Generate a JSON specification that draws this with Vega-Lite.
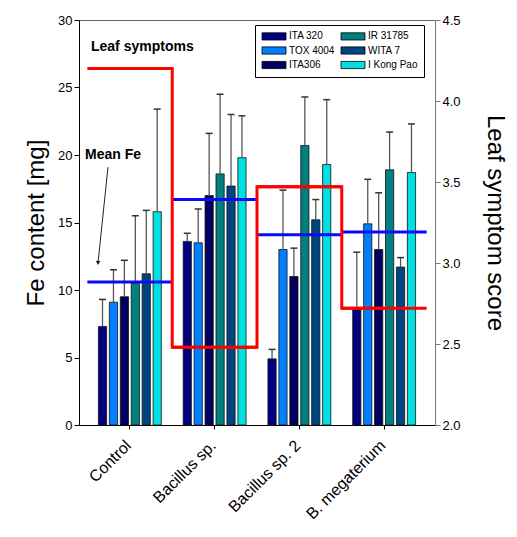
{
  "$schema": "https://vega.github.io/schema/vega-lite/v6.json",
  "width": 356,
  "height": 405,
  "autosize": {"type": "none"},
  "padding": {"left": 79, "top": 20, "right": 82, "bottom": 112},
  "background": "white",
  "config": {
    "font": "Liberation Sans",
    "view": {"stroke": "#666666", "strokeWidth": 1},
    "axis": {"grid": false, "labelColor": "black", "titleColor": "black", "titleFontWeight": "normal", "labelFont": "Liberation Sans", "titleFont": "Liberation Sans"}
  },
  "datasets": {
    "bars": [
      {"treatment": "Control", "genotype": "ITA 320", "fe": 7.3, "upper": 9.3},
      {"treatment": "Control", "genotype": "TOX 4004", "fe": 9.1, "upper": 11.5},
      {"treatment": "Control", "genotype": "ITA306", "fe": 9.5, "upper": 12.2},
      {"treatment": "Control", "genotype": "IR 31785", "fe": 10.5, "upper": 15.5},
      {"treatment": "Control", "genotype": "WITA 7", "fe": 11.2, "upper": 15.9},
      {"treatment": "Control", "genotype": "I Kong Pao", "fe": 15.8, "upper": 23.4},
      {"treatment": "Bacillus sp.", "genotype": "ITA 320", "fe": 13.6, "upper": 14.2},
      {"treatment": "Bacillus sp.", "genotype": "TOX 4004", "fe": 13.5, "upper": 16.0},
      {"treatment": "Bacillus sp.", "genotype": "ITA306", "fe": 17.0, "upper": 21.6},
      {"treatment": "Bacillus sp.", "genotype": "IR 31785", "fe": 18.6, "upper": 24.5},
      {"treatment": "Bacillus sp.", "genotype": "WITA 7", "fe": 17.7, "upper": 23.0},
      {"treatment": "Bacillus sp.", "genotype": "I Kong Pao", "fe": 19.8, "upper": 22.9},
      {"treatment": "Bacillus sp. 2", "genotype": "ITA 320", "fe": 4.9, "upper": 5.6},
      {"treatment": "Bacillus sp. 2", "genotype": "TOX 4004", "fe": 13.0, "upper": 17.4},
      {"treatment": "Bacillus sp. 2", "genotype": "ITA306", "fe": 11.0, "upper": 13.1},
      {"treatment": "Bacillus sp. 2", "genotype": "IR 31785", "fe": 20.7, "upper": 24.3},
      {"treatment": "Bacillus sp. 2", "genotype": "WITA 7", "fe": 15.2, "upper": 16.7},
      {"treatment": "Bacillus sp. 2", "genotype": "I Kong Pao", "fe": 19.3, "upper": 24.1},
      {"treatment": "B. megaterium", "genotype": "ITA 320", "fe": 8.6, "upper": 12.8},
      {"treatment": "B. megaterium", "genotype": "TOX 4004", "fe": 14.9, "upper": 18.2},
      {"treatment": "B. megaterium", "genotype": "ITA306", "fe": 13.0, "upper": 17.2},
      {"treatment": "B. megaterium", "genotype": "IR 31785", "fe": 18.9, "upper": 21.7},
      {"treatment": "B. megaterium", "genotype": "WITA 7", "fe": 11.7, "upper": 12.4},
      {"treatment": "B. megaterium", "genotype": "I Kong Pao", "fe": 18.7, "upper": 22.3}
    ],
    "means": [
      {"treatment": "Control", "meanFe": 10.6, "score": 4.2},
      {"treatment": "Bacillus sp.", "meanFe": 16.7, "score": 2.48},
      {"treatment": "Bacillus sp. 2", "meanFe": 14.1, "score": 3.47},
      {"treatment": "B. megaterium", "meanFe": 14.3, "score": 2.72}
    ],
    "notes": [
      {"label": "Leaf symptoms", "treatment": "Control", "fe": 27.7},
      {"label": "Mean Fe", "treatment": "Control", "fe": 19.7}
    ]
  },
  "layer": [
    {
      "encoding": {
        "x": {
          "field": "treatment", "type": "nominal",
          "sort": ["Control", "Bacillus sp.", "Bacillus sp. 2", "B. megaterium"],
          "scale": {"paddingInner": 0, "paddingOuter": 0.1},
          "axis": {"title": null, "labelAngle": -45, "labelFontSize": 16, "tickSize": 4, "tickColor": "black", "domainColor": "black", "labelPadding": 8, "labelOffset": -7}
        }
      },
      "layer": [
        {
          "data": {"name": "bars"},
          "mark": {"type": "bar", "stroke": "#111111", "strokeWidth": 0.8},
          "encoding": {
            "xOffset": {"field": "genotype", "type": "nominal", "sort": ["ITA 320", "TOX 4004", "ITA306", "IR 31785", "WITA 7", "I Kong Pao"], "scale": {"paddingInner": 0.25, "paddingOuter": 1.36}},
            "y": {
              "field": "fe", "type": "quantitative",
              "scale": {"domain": [0, 30]},
              "axis": {"orient": "left", "values": [0, 5, 10, 15, 20, 25, 30], "title": "Fe content [mg]", "titleFontSize": 24, "labelFontSize": 13, "tickSize": 5, "tickColor": "black", "domainColor": "black", "titlePadding": 9}
            },
            "color": {
              "field": "genotype", "type": "nominal",
              "scale": {"domain": ["ITA 320", "TOX 4004", "ITA306", "IR 31785", "WITA 7", "I Kong Pao"], "range": ["#000080", "#0080FF", "#000060", "#008080", "#004480", "#00E0E0"]},
              "legend": {"orient": "none", "legendX": 176, "legendY": 5, "columns": 2, "title": null, "strokeColor": "black", "fillColor": "white", "padding": 6, "symbolType": "M-1,-0.9H5V0.9H-1Z", "symbolSize": 64, "symbolStrokeColor": "black", "symbolStrokeWidth": 0.8, "symbolOpacity": 1, "labelFontSize": 10, "labelOffset": 18, "rowPadding": 2.5, "columnPadding": 4, "labelColor": "black"}
            }
          }
        },
        {
          "data": {"name": "bars"},
          "mark": {"type": "rule", "color": "#555555", "strokeWidth": 1.3},
          "encoding": {
            "xOffset": {"field": "genotype", "type": "nominal", "sort": ["ITA 320", "TOX 4004", "ITA306", "IR 31785", "WITA 7", "I Kong Pao"]},
            "y": {"field": "fe", "type": "quantitative", "scale": {"domain": [0, 30]}},
            "y2": {"field": "upper"}
          }
        },
        {
          "data": {"name": "bars"},
          "mark": {"type": "tick", "orient": "horizontal", "size": 7, "thickness": 1.5, "color": "#333333", "opacity": 1},
          "encoding": {
            "xOffset": {"field": "genotype", "type": "nominal", "sort": ["ITA 320", "TOX 4004", "ITA306", "IR 31785", "WITA 7", "I Kong Pao"]},
            "y": {"field": "upper", "type": "quantitative", "scale": {"domain": [0, 30]}}
          }
        },
        {
          "data": {"name": "means"},
          "mark": {"type": "tick", "orient": "horizontal", "size": 85, "thickness": 3, "color": "#0A0AF5", "opacity": 1},
          "encoding": {
            "y": {"field": "meanFe", "type": "quantitative", "scale": {"domain": [0, 30]}}
          }
        },
        {
          "data": {"name": "notes"},
          "transform": [{"filter": "datum.label === 'Leaf symptoms'"}],
          "mark": {"type": "text", "fontSize": 14, "fontWeight": "bold", "align": "left", "baseline": "alphabetic", "color": "black", "dx": 3.5},
          "encoding": {
            "x": {"field": "treatment", "type": "nominal", "bandPosition": 0},
            "y": {"field": "fe", "type": "quantitative", "scale": {"domain": [0, 30]}},
            "text": {"field": "label"}
          }
        },
        {
          "data": {"name": "notes"},
          "transform": [{"filter": "datum.label === 'Mean Fe'"}],
          "mark": {"type": "text", "fontSize": 14, "fontWeight": "bold", "align": "left", "baseline": "alphabetic", "color": "black", "dx": -2.5},
          "encoding": {
            "x": {"field": "treatment", "type": "nominal", "bandPosition": 0},
            "y": {"field": "fe", "type": "quantitative", "scale": {"domain": [0, 30]}},
            "text": {"field": "label"}
          }
        },
        {
          "data": {"values": [{"treatment": "Control", "from": 19.1, "to": 12.1}]},
          "mark": {"type": "rule", "color": "#222222", "strokeWidth": 1},
          "encoding": {
            "x": {"field": "treatment", "type": "nominal", "bandPosition": 0.242},
            "x2": {"datum": "Control", "bandPosition": 0.126},
            "y": {"field": "from", "type": "quantitative", "scale": {"domain": [0, 30]}},
            "y2": {"field": "to"}
          }
        },
        {
          "data": {"values": [{"treatment": "Control", "to": 12.0}]},
          "mark": {"type": "point", "shape": "triangle-down", "size": 22, "filled": true, "color": "#222222", "opacity": 1, "angle": 6},
          "encoding": {
            "x": {"field": "treatment", "type": "nominal", "bandPosition": 0.124},
            "y": {"field": "to", "type": "quantitative", "scale": {"domain": [0, 30]}}
          }
        }
      ]
    },
    {
      "data": {"name": "means"},
      "encoding": {
        "x": {
          "field": "treatment", "type": "nominal",
          "sort": ["Control", "Bacillus sp.", "Bacillus sp. 2", "B. megaterium"],
          "scale": {"paddingInner": 0, "paddingOuter": 0.1},
          "axis": {"title": null, "labelAngle": -45, "labelFontSize": 16, "tickSize": 4, "tickColor": "black", "domainColor": "black", "labelPadding": 8, "labelOffset": -7}
        },
        "y": {
          "field": "score", "type": "quantitative",
          "scale": {"domain": [2, 4.5]},
          "axis": {"orient": "right", "values": [2, 2.5, 3, 3.5, 4, 4.5], "format": ".1f", "title": "Leaf symptom score", "titleFontSize": 24, "labelFontSize": 13, "tickSize": 5, "tickColor": "#777777", "domainColor": "#777777", "titlePadding": 22}
        }
      },
      "layer": [
        {"mark": {"type": "line", "interpolate": "step", "color": "#FF0000", "strokeWidth": 3, "strokeJoin": "miter"}},
        {"mark": {"type": "tick", "orient": "horizontal", "size": 85, "thickness": 3, "color": "#FF0000", "opacity": 1}}
      ]
    }
  ],
  "resolve": {"scale": {"y": "independent"}}
}
